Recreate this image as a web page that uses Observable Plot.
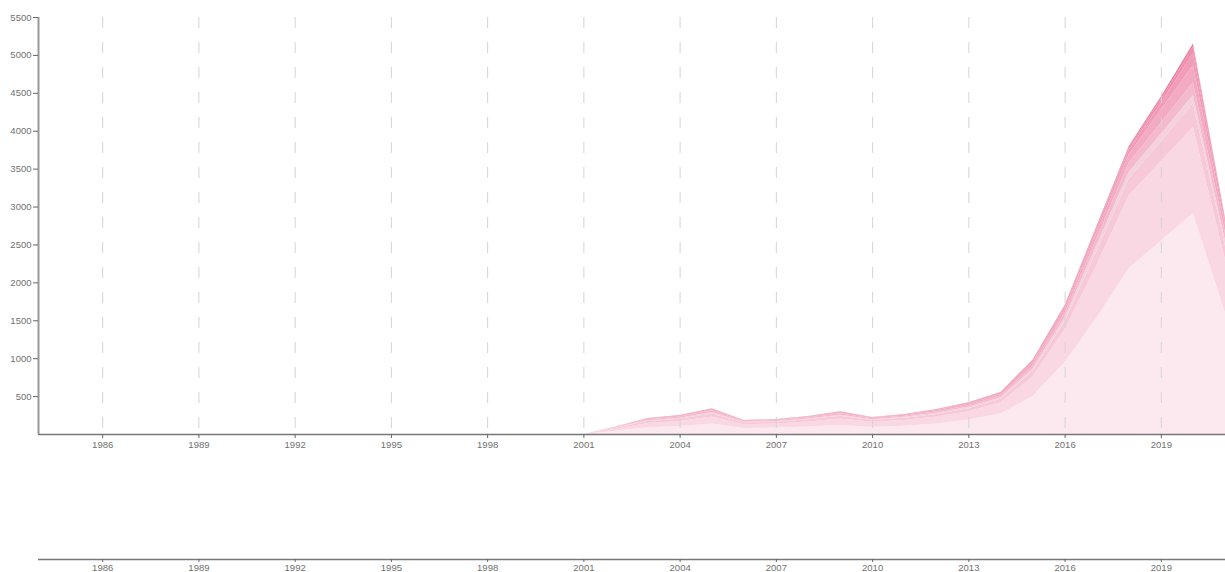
<!DOCTYPE html>
<html>
<head>
<meta charset="utf-8">
<script src="https://cdn.jsdelivr.net/npm/d3@7"></script>
<script src="https://cdn.jsdelivr.net/npm/@observablehq/plot@0.6"></script>
<style>
  html, body { margin: 0; padding: 0; background: #fff; }
  #chart svg { display: block; }
</style>
</head>
<body>
<div id="chart"></div>
<script>
// Data (values per year, stacked bottom to top)
const years = [2001,2002,2003,2004,2005,2006,2007,2008,2009,2010,2011,2012,2013,2014,2015,2016,2017,2018,2019,2020,2021];
const seriesNames = ["A","B","C","D","E","F","G","H","I"];
const sA = [0,45,90,105,140,80,85,100,120,95,110,140,190,270,500,950,1540,2190,2550,2915,1600];
const sB = [0,25,55,65,90,50,55,65,85,65,75,90,110,150,260,430,700,960,1050,1135,700];
const sC = [0,12,25,30,40,22,22,28,35,25,30,35,40,45,70,110,180,220,260,315,180];
const sD = [0,6,12,15,20,10,10,12,15,10,12,15,20,20,35,50,80,90,100,105,70];
const sE = [0,6,13,16,22,11,12,14,18,13,15,20,20,25,40,60,90,120,150,170,100];
const sF = [0,5,9,10,15,7,8,10,15,10,12,15,20,20,35,50,80,110,170,225,110];
const sG = [0,0,4,5,8,3,4,5,7,5,6,8,10,10,20,30,40,60,90,160,50];
const sH = [0,1,1,2,3,1,1,2,3,1,3,4,6,10,12,15,25,30,50,80,25];
const sI = [0,0,1,2,2,1,1,1,2,1,2,3,4,5,8,5,15,20,30,45,15];
const seriesValues = [sA,sB,sC,sD,sE,sF,sG,sH,sI];
const seriesColors = ["#fce9f0","#f9d7e3","#f7c8d8","#f2d2dd","#f5b9cd","#f3abc3","#f19cb8","#ef90af","#ec80a3"];
const xTicks = [1986,1989,1992,1995,1998,2001,2004,2007,2010,2013,2016,2019];
const yTicks = [500,1000,1500,2000,2500,3000,3500,4000,4500,5000,5500];
const xDomain = [1984, 2021];
const yDomain = [0, 5500];

const rows = [];
seriesNames.forEach((name, i) => {
  years.forEach((yr, j) => rows.push({year: yr, value: seriesValues[i][j], series: name}));
});

const font = "'Liberation Sans', Arial, sans-serif";

const main = Plot.plot({
  width: 1225,
  height: 460,
  marginTop: 17,
  marginBottom: 26,
  marginLeft: 38,
  marginRight: 0,
  style: {fontFamily: font, fontSize: "9.5px", color: "#707070", background: "#fff"},
  x: {domain: xDomain},
  y: {domain: yDomain},
  color: {domain: seriesNames, range: seriesColors},
  marks: [
    Plot.areaY(rows, {x: "year", y: "value", fill: "series", z: "series", clip: true}),
    Plot.ruleX(xTicks, {y1: yDomain[1], y2: yDomain[0], stroke: "#d4d4d4", strokeWidth: 1, strokeDasharray: "11,14"}),
    Plot.ruleX([xDomain[0]], {stroke: "#999", strokeWidth: 2}),
    Plot.ruleY([0], {stroke: "#777", strokeWidth: 1.5}),
    Plot.axisY({ticks: yTicks, tickSize: 5, tickPadding: 2, label: null, tickFormat: d => String(d), stroke: "#666"}),
    Plot.axisX({ticks: xTicks, tickSize: 4, tickPadding: 3, label: null, tickFormat: d => String(d), stroke: "#666"})
  ]
});

const context = Plot.plot({
  width: 1225,
  height: 112,
  marginTop: 10,
  marginBottom: 13,
  marginLeft: 38,
  marginRight: 0,
  style: {fontFamily: font, fontSize: "9.5px", color: "#707070", background: "#fff"},
  x: {domain: xDomain},
  y: {domain: [0, 1], axis: null},
  marks: [
    Plot.ruleY([0], {stroke: "#777", strokeWidth: 1.5}),
    Plot.axisX({ticks: xTicks, tickSize: 3, tickPadding: 2, label: null, tickFormat: d => String(d), stroke: "#666"})
  ]
});

const el = document.getElementById("chart");
el.appendChild(main);
el.appendChild(context);
</script>
</body>
</html>
